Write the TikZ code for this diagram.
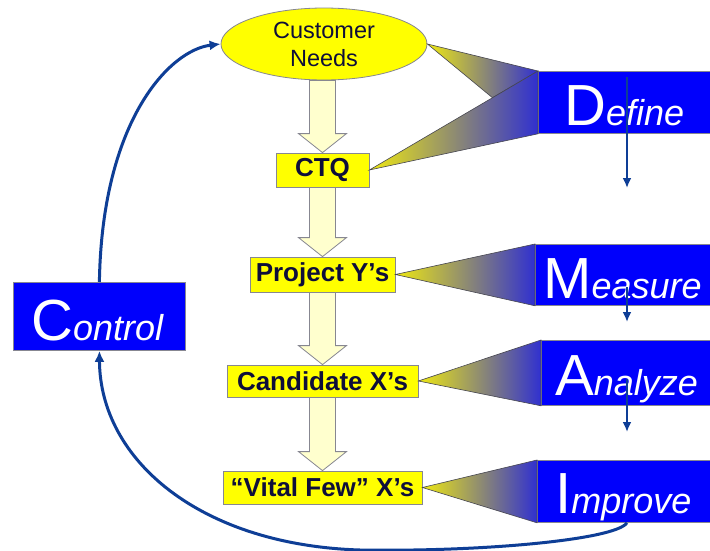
\documentclass[tikz,border=0pt]{standalone}
\usepackage{fontspec}
\setmainfont{Liberation Sans}
\usetikzlibrary{shapes.geometric,arrows.meta,calc}

\definecolor{boxyellow}{RGB}{255,255,0}
\definecolor{paleyellow}{RGB}{255,255,206}
\definecolor{edgegray}{RGB}{135,135,145}
\definecolor{inkblue}{RGB}{14,14,58}
\definecolor{phaseblue}{RGB}{0,0,252}
\definecolor{loopblue}{RGB}{14,62,150}
\definecolor{fanyellow}{RGB}{238,232,18}
\definecolor{fanblue}{RGB}{48,48,208}
\definecolor{fanedge}{RGB}{70,70,80}

% large capital followed by the italic rest of the phase name
\newcommand\phaseword[2]{{\fontsize{58}{58}\selectfont #1}{\fontsize{36}{36}\selectfont\itshape #2}}

% wide hollow arrow between two stacked flow nodes
\newcommand\flowarrow[2]{%
  \draw[flowarrowstyle]
    ($(#2.north |- #1.south)+(-13,0)$) -- ($(#2.north)+(-13,-19)$) --
    ($(#2.north)+(-24,-19)$) -- (#2.north) -- ($(#2.north)+(24,-19)$) --
    ($(#2.north)+(13,-19)$) -- ($(#2.north |- #1.south)+(13,0)$) -- cycle;}

\tikzset{
  flowbox/.style={rectangle, draw=edgegray, line width=0.8pt, fill=boxyellow,
    text=inkblue, inner sep=0pt, font=\fontsize{26}{30}\selectfont\bfseries},
  phasebox/.style={rectangle, draw=edgegray, line width=0.8pt, fill=phaseblue,
    anchor=north west, inner sep=0pt},
  phaselabel/.style={text=white, inner sep=0pt, anchor=base west},
  flowarrowstyle/.style={draw=edgegray, line width=0.8pt, fill=paleyellow, line join=miter},
  fan/.style={left color=fanyellow, right color=fanblue, draw=fanedge, line width=0.6pt},
  looparrow/.style={draw=loopblue, line width=3pt,
    -{Latex[length=11pt,width=10pt]}},
  phasearrow/.style={draw=loopblue, line width=2.8pt,
    -{Latex[length=10pt,width=9pt]}}
}

\begin{document}
\begin{tikzpicture}[x=1pt, y=-1pt]
\useasboundingbox[fill=white] (0,0) rectangle (710,551);

% flow of requirements
\node[ellipse, draw=edgegray, line width=0.8pt, fill=boxyellow, text=inkblue,
      minimum width=206pt, minimum height=72pt, inner sep=0pt, align=center,
      font=\fontsize{23.5}{28}\selectfont] (cn) at (324,44) {Customer\\Needs};
\node[flowbox, minimum width=93pt,  minimum height=34pt] (ctq) at (322.5,170)   {CTQ};
\node[flowbox, minimum width=145pt, minimum height=35pt] (py)  at (322.5,274.5) {Project Y’s};
\node[flowbox, minimum width=191pt, minimum height=32pt] (cx)  at (322.5,381)   {Candidate X’s};
\node[flowbox, minimum width=199pt, minimum height=33pt] (vf)  at (322.5,487.5) {“Vital Few” X’s};

\flowarrow{cn}{ctq}
\flowarrow{ctq}{py}
\flowarrow{py}{cx}
\flowarrow{cx}{vf}

% phase boxes
\node[phasebox, minimum width=190pt, minimum height=62pt] (define)  at (538,71)  {};
\node[phasebox, minimum width=190pt, minimum height=61pt] (measure) at (535,244) {};
\node[phasebox, minimum width=190pt, minimum height=65pt] (analyze) at (541,340) {};
\node[phasebox, minimum width=190pt, minimum height=62pt] (improve) at (537,460) {};
\node[phasebox, minimum width=172pt, minimum height=68pt] (control) at (13,282)  {};

\node[phaselabel] (define-t)  at (564,125) {\phaseword{D}{efine}};
\node[phaselabel] (measure-t) at (543,298) {\phaseword{M}{easure}};
\node[phaselabel] (analyze-t) at (555,395) {\phaseword{A}{nalyze}};
\node[phaselabel] (improve-t) at (555,513) {\phaseword{I}{mprove}};
\node[phaselabel] (control-t) at (31,340)  {\phaseword{C}{ontrol}};

% fans linking each flow item to its phase
\coordinate (dmid) at ($(ctq.east)!0.73!(define.north west)$);
\shadedraw[fan] (cn.east) -- (define.north west) -- (dmid) -- cycle;
\shadedraw[fan] (ctq.east) -- (define.north west) -- (define.south west) -- cycle;
\shadedraw[fan] (py.east) -- (measure.north west) -- (measure.south west) -- cycle;
\shadedraw[fan] (cx.east) -- (analyze.north west) -- (analyze.south west) -- cycle;
\shadedraw[fan] (vf.east) -- (improve.north west) -- (improve.south west) -- cycle;

% phase sequence arrows
\coordinate (d1) at (627,77);  \coordinate (d2) at (627,188);
\coordinate (m1) at (627,287); \coordinate (m2) at (627,322);
\coordinate (a1) at (627,379); \coordinate (a2) at (627,432);
\draw[phasearrow] (d1) -- (d2);
\draw[phasearrow] (m1) -- (m2);
\draw[phasearrow] (a1) -- (a2);

% control loop
\coordinate (loopstart) at ($(improve.south west)+(90,0)$);
\draw[looparrow] (loopstart) .. controls (615,540) and (480,552) .. (360,550)
  .. controls (200,545) and (100,460) .. (control.south);
\draw[looparrow] (control.north) .. controls (102,120) and (170,50) .. (cn.west);
\end{tikzpicture}
\end{document}
